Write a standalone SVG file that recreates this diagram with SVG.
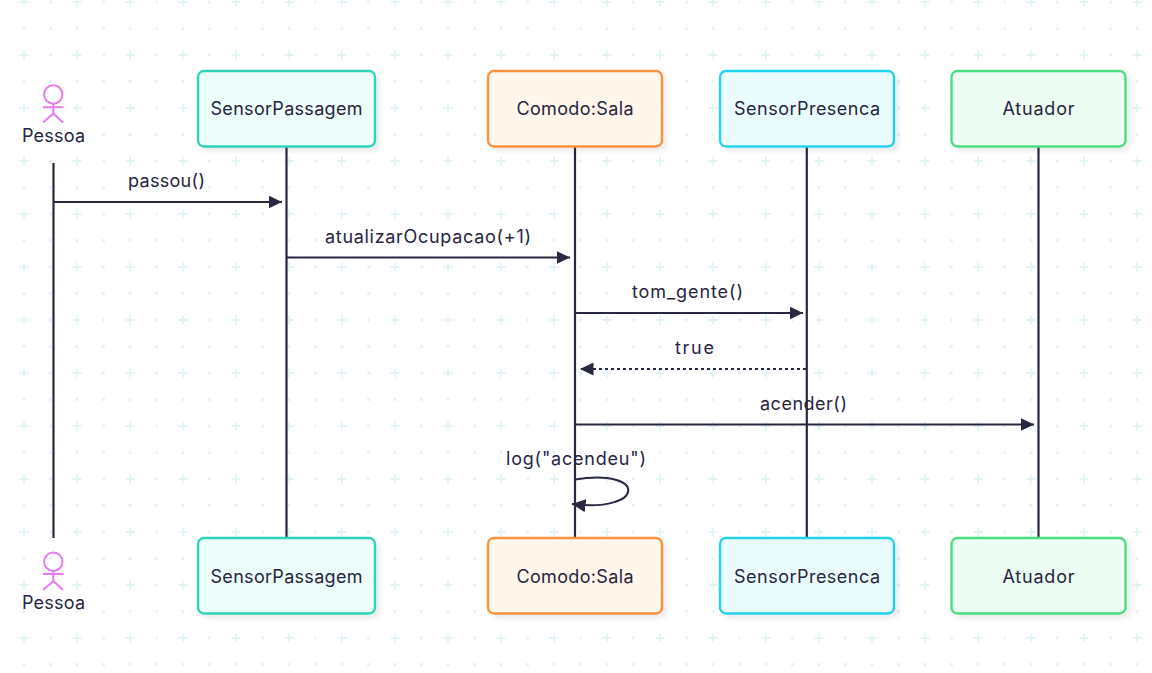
<svg xmlns="http://www.w3.org/2000/svg" width="1152" height="673" viewBox="0 0 1152 673">
<style>
text{font-family:"Inter","Liberation Sans",sans-serif;font-size:18px;fill:#27253f;text-anchor:middle}
.box{stroke-width:2.400}
.life{stroke:#2a2840;stroke-width:2.200;fill:none}
.msg{stroke:#2a2840;stroke-width:2;fill:none}
.actor{stroke:#e879f0;stroke-width:2;fill:none}
.bg{fill:#e2f4f7}
.teal{fill:#edfdfa;stroke:#2dd4b8}
.orange{fill:#fff6ec;stroke:#fb923c}
.cyan{fill:#ebfcff;stroke:#22d3ee}
.green{fill:#ecfdf4;stroke:#4ade80}
</style>
<defs>
<pattern id="grid" x="24" y="2" width="53" height="53" patternUnits="userSpaceOnUse">
<path class="bg" d="M-0.900-4.500h1.800v3.600h3.600v1.800h-3.600v3.600h-1.800v-3.600h-3.600v-1.800h3.600z"/>
<path class="bg" d="M52.100 48.500h1.800v9h-1.800zM48.500 52.100h9v1.800h-9z"/>
<path class="bg" d="M52.100-4.500h1.800v9h-1.800zM48.500-.9h9v1.800h-9z"/>
<path class="bg" d="M-.9 48.500h1.800v9h-1.800zM-4.500 52.100h9v1.800h-9z"/>
<circle class="bg" cx="26.500" cy="0" r="1.700"/>
<circle class="bg" cx="0" cy="26.500" r="1.700"/>
<circle class="bg" cx="26.500" cy="26.500" r="1.700"/>
<circle class="bg" cx="26.500" cy="53" r="1.700"/>
<circle class="bg" cx="53" cy="26.500" r="1.700"/>
</pattern>
<filter id="sh" x="-10%" y="-10%" width="125%" height="125%"><feDropShadow dx="4" dy="4" stdDeviation="2" flood-color="#000" flood-opacity="0.07"/></filter>
<marker id="arrow" markerUnits="userSpaceOnUse" markerWidth="14" markerHeight="13" refX="13.500" refY="6.500" orient="auto"><path d="M0 0L13.500 6.500L0 13z" fill="#2a2840"/></marker>
</defs>
<rect width="1152" height="673" fill="#fff"/>
<rect width="1152" height="673" fill="url(#grid)"/>
<g id="connectors">
<path class="life" d="M53.500 163V538M286.500 146V538M575 146V538M806.800 146V538M1038.500 146V538"/>
<path class="msg" marker-end="url(#arrow)" d="M54 202H282"/>
<path class="msg" marker-end="url(#arrow)" d="M287 257.500H570"/>
<path class="msg" marker-end="url(#arrow)" d="M575 313H803"/>
<path class="msg" stroke-dasharray="3 3" marker-end="url(#arrow)" d="M806 369H580"/>
<path class="msg" marker-end="url(#arrow)" d="M575 424.500H1034"/>
<path class="msg" marker-end="url(#arrow)" d="M575 479.500C648 468 645 513 572 504"/>
</g>
<g id="actor-top"><g class="actor"><circle cx="53.300" cy="94.500" r="9.200"/><path d="M53.300 103.700V113.500M43 107.300H63.500M53.300 113.500L43 122.500M53.300 113.500L63 122.500"/></g><text x="53.500" y="142" textLength="63" lengthAdjust="spacing">Pessoa</text></g>
<g id="sensorpassagem-top"><rect class="box teal" filter="url(#sh)" x="198" y="71" width="177" height="75.500" rx="6"/><text x="286.500" y="114.500" textLength="152" lengthAdjust="spacing">SensorPassagem</text></g>
<g id="comodo-top"><rect class="box orange" filter="url(#sh)" x="488" y="71" width="174" height="75.500" rx="6"/><text x="575" y="114.500" textLength="117" lengthAdjust="spacing">Comodo:Sala</text></g>
<g id="sensorpresenca-top"><rect class="box cyan" filter="url(#sh)" x="720" y="71" width="174" height="75.500" rx="6"/><text x="807" y="114.500" textLength="146" lengthAdjust="spacing">SensorPresenca</text></g>
<g id="atuador-top"><rect class="box green" filter="url(#sh)" x="951.500" y="71" width="174" height="75.500" rx="6"/><text x="1038.500" y="114.500" textLength="72" lengthAdjust="spacing">Atuador</text></g>
<g id="actor-bottom"><g class="actor"><circle cx="53.300" cy="561.700" r="9.200"/><path d="M53.300 571V581M43 574H63.500M53.300 581L43 590M53.300 581L63 590"/></g><text x="53.500" y="609" textLength="63" lengthAdjust="spacing">Pessoa</text></g>
<g id="sensorpassagem-bottom"><rect class="box teal" filter="url(#sh)" x="198" y="538" width="177" height="75.500" rx="6"/><text x="286.500" y="582.500" textLength="152" lengthAdjust="spacing">SensorPassagem</text></g>
<g id="comodo-bottom"><rect class="box orange" filter="url(#sh)" x="488" y="538" width="174" height="75.500" rx="6"/><text x="575" y="582.500" textLength="117" lengthAdjust="spacing">Comodo:Sala</text></g>
<g id="sensorpresenca-bottom"><rect class="box cyan" filter="url(#sh)" x="720" y="538" width="174" height="75.500" rx="6"/><text x="807" y="582.500" textLength="146" lengthAdjust="spacing">SensorPresenca</text></g>
<g id="atuador-bottom"><rect class="box green" filter="url(#sh)" x="951.500" y="538" width="174" height="75.500" rx="6"/><text x="1038.500" y="582.500" textLength="72" lengthAdjust="spacing">Atuador</text></g>
<g id="labels">
<text x="166.500" y="186.500" textLength="77" lengthAdjust="spacing">passou()</text>
<text x="428" y="242.500" textLength="206" lengthAdjust="spacing">atualizarOcupacao(+1)</text>
<text x="687.500" y="297.500" textLength="111" lengthAdjust="spacing">tom_gente()</text>
<text x="694.500" y="353.500" textLength="39" lengthAdjust="spacing">true</text>
<text x="803.500" y="409.500" textLength="87" lengthAdjust="spacing">acender()</text>
<text x="576" y="464.500" textLength="140" lengthAdjust="spacing">log("acendeu")</text>
</g>
</svg>
